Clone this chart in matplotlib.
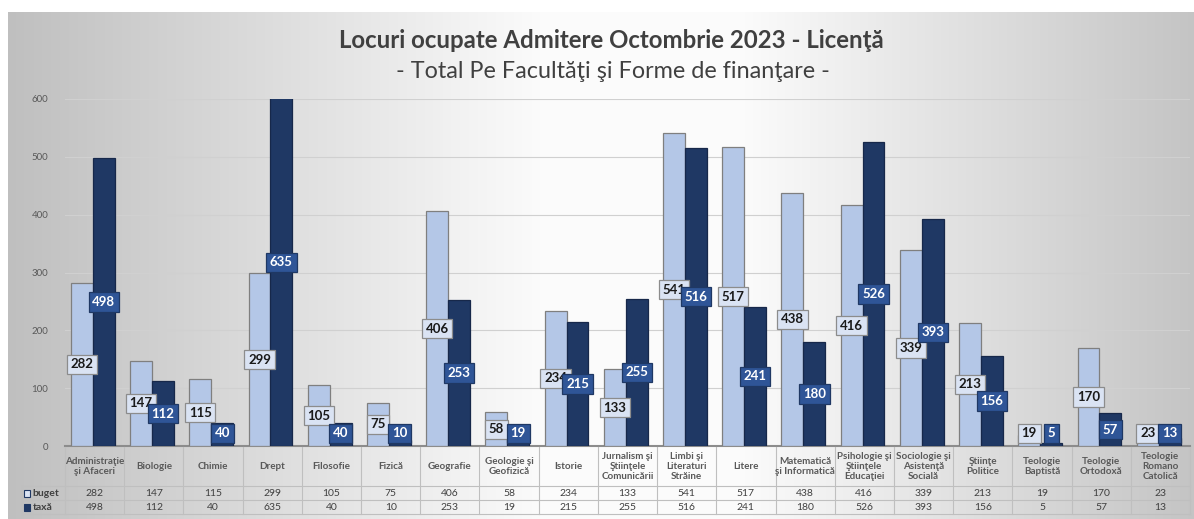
import numpy as np
import matplotlib
matplotlib.use("Agg")
import matplotlib.pyplot as plt
from matplotlib.patches import Rectangle

categories = ["Administraţie\nşi Afaceri", "Biologie", "Chimie", "Drept", "Filosofie", "Fizică",
              "Geografie", "Geologie şi\nGeofizică", "Istorie", "Jurnalism şi\nŞtiinţele\nComunicării",
              "Limbi şi\nLiteraturi\nStrăine", "Litere", "Matematică\nşi Informatică",
              "Psihologie şi\nŞtiinţele\nEducaţiei", "Sociologie şi\nAsistenţă\nSocială",
              "Ştiinţe\nPolitice", "Teologie\nBaptistă", "Teologie\nOrtodoxă", "Teologie\nRomano\nCatolică"]
buget = [282, 147, 115, 299, 105, 75, 406, 58, 234, 133, 541, 517, 438, 416, 339, 213, 19, 170, 23]
taxa = [498, 112, 40, 635, 40, 10, 253, 19, 215, 255, 516, 241, 180, 526, 393, 156, 5, 57, 13]
series_names = ["buget", "taxă"]
yticks = [0, 100, 200, 300, 400, 500, 600]

W, H = 1194, 519
fig = plt.figure(figsize=(W / 100, H / 100), dpi=100)
plt.rcParams['font.family'] = ['Lato', 'DejaVu Sans']

# background gradient
bg = fig.add_axes([8 / W, 0, 1 - 8 / W, 1 - 12 / H])
xs = np.linspace(0, 1, 600)
g = np.interp(xs, [0, 0.45, 0.62, 1], [0.75, 0.985, 0.985, 0.77])
img = np.tile(g, (10, 1))
bg.imshow(np.dstack([img, img, img]), aspect='auto', extent=[0, 1, 0, 1])
bg.set_axis_off()

n = len(categories)
x = np.arange(n)
left_px, right_px = 65, 1190
ax = fig.add_axes([left_px / W, (H - 446) / H, (right_px - left_px) / W, (446 - 99) / H])
ax.set_facecolor('none')
ax.set_xlim(-0.5, n - 0.5)
ax.set_ylim(0, 600)
w = 0.37
off = -0.03
ax.bar(x - w / 2 + off, buget, w, color='#b4c7e7', edgecolor='#7f7f7f', linewidth=0.9, zorder=3)
ax.bar(x + w / 2 + off, taxa, w, color='#1f3864', edgecolor='#17284a', linewidth=0.9, zorder=3)
ax.set_yticks(yticks)
ax.set_yticklabels([str(t) for t in yticks], fontsize=7, color='#595959')
ax.tick_params(axis='y', length=0, pad=12)
ax.tick_params(axis='x', length=0, labelbottom=False)
ax.grid(axis='y', color='#d0d0d0', linewidth=0.8, zorder=0)
for s in ['top', 'right', 'left']:
    ax.spines[s].set_visible(False)
ax.spines['bottom'].set_color('#8c8c8c')
ax.spines['bottom'].set_linewidth(1.5)

for i in range(n):
    yb = max(buget[i] / 2, 22)
    ax.text(x[i] - w / 2 + off, yb, str(buget[i]), ha='center', va='center', fontsize=9.5,
            fontweight='bold', color='#1a1a1a', zorder=5,
            bbox=dict(boxstyle='square,pad=0.28', facecolor='#dae3f3', edgecolor='#8c8c8c', linewidth=0.9))
    yt = max(taxa[i] / 2, 22)
    ax.text(x[i] + w / 2 + off, yt, str(taxa[i]), ha='center', va='center', fontsize=9.5,
            fontweight='bold', color='white', zorder=5,
            bbox=dict(boxstyle='square,pad=0.28', facecolor='#2f5597', edgecolor='#1f3864', linewidth=0.9))

# data table
tb = fig.add_axes([left_px / W, (H - 514) / H, (right_px - left_px) / W, (514 - 447) / H])
tb.set_xlim(-0.5, n - 0.5)
tb.set_ylim(67, 0)
tb.set_axis_off()
unit = (right_px - left_px) / n
xl = -0.5 - (left_px - 22) / unit
lc = '#bfbfbf'
for yy in [39, 53, 67]:
    tb.plot([xl, n - 0.5], [yy, yy], color=lc, lw=0.8, clip_on=False)
for k in range(n + 1):
    tb.plot([k - 0.5, k - 0.5], [0, 67], color=lc, lw=0.8, clip_on=False)
tb.plot([xl, xl], [39, 67], color=lc, lw=0.8, clip_on=False)
for i in range(n):
    tb.text(x[i], 19.5, categories[i], ha='center', va='center', fontsize=7.1,
            fontweight='bold', color='#595959', linespacing=1.1)
    tb.text(x[i], 46, str(buget[i]), ha='center', va='center', fontsize=7.5, color='#404040')
    tb.text(x[i], 60, str(taxa[i]), ha='center', va='center', fontsize=7.5, color='#404040')
for yy, name, fc, ec in [(46, series_names[0], '#dae3f3', '#1f3864'), (60, series_names[1], '#1f3864', '#1f3864')]:
    tb.add_patch(Rectangle((xl + 0.04, yy - 3.5), 0.1, 7, facecolor=fc, edgecolor=ec, lw=0.8, clip_on=False))
    tb.text(xl + 0.18, yy, name, ha='left', va='center', fontsize=7.5, fontweight='bold', color='#404040',
            clip_on=False)

fig.text(611 / W, 1 - 40 / H, "Locuri ocupate Admitere Octombrie 2023 - Licenţă", ha='center', va='center',
         fontsize=17.3, fontweight='bold', color='#404040')
fig.text(613 / W, 1 - 72 / H, "- Total Pe Facultăţi şi Forme de finanţare -", ha='center', va='center',
         fontsize=16.8, color='#404040')

fig.savefig('out.png', dpi=100)
